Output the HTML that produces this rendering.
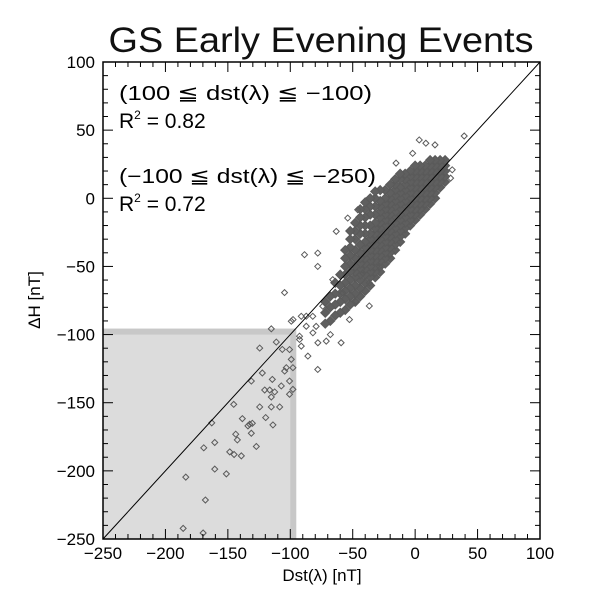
<!DOCTYPE html>
<html><head><meta charset="utf-8"><style>
html,body{margin:0;padding:0;background:#fff;}
svg{display:block;font-family:"Liberation Sans","DejaVu Sans",sans-serif;}
</style></head><body>
<svg id="chart" width="600" height="600" viewBox="0 0 600 600" xmlns="http://www.w3.org/2000/svg">
<text x="321" y="52" font-size="35" text-anchor="middle" textLength="425" lengthAdjust="spacingAndGlyphs" font-weight="normal" fill="#111">GS Early Evening Events</text>
<g id="plot"></g>
<text x="119" y="100" font-size="20" textLength="253" lengthAdjust="spacingAndGlyphs">(100 ≦ dst(λ) ≦ −100)</text>
<text x="119" y="128" font-size="21">R<tspan font-size="12" dy="-9">2</tspan><tspan dy="9"> = 0.82</tspan></text>
<text x="119" y="183" font-size="20" textLength="257" lengthAdjust="spacingAndGlyphs">(−100 ≦ dst(λ) ≦ −250)</text>
<text x="119" y="211" font-size="21">R<tspan font-size="12" dy="-9">2</tspan><tspan dy="9"> = 0.72</tspan></text>
<text x="322" y="581" font-size="17" text-anchor="middle">Dst(λ) [nT]</text>
<text x="0" y="0" font-size="17" text-anchor="middle" transform="translate(40,300) rotate(-90)">ΔH [nT]</text>
</svg>
<script>
const xTicks = [-250,-200,-150,-100,-50,0,50,100];
const yTicks = [-250,-200,-150,-100,-50,0,50,100];
const xDomain = [-250,100];
const yDomain = [-250,100];
const threshold = -100;
// outlier / strong-storm points
const outX = [-115.2,-124.5,-111.2,-106.4,-122.4,-114.4,-131.2,-120.5,-116.5,-112.5,-115.2,-107.2,-104.5,-103.2,-99.2,-97.9,-100.6,-97.9,-100.6,-145.3,-124.5,-115.2,-108.5,-138.4,-119.7,-132.5,-130.4,-133.9,-113.9,-162.9,-143.7,-142.4,-131.2,-127.2,-160.5,-169.3,-148.5,-145.0,-139.2,-160.5,-151.2,-183.7,-168.0,-185.8,-169.8,
 3.3,8.6,39.3,15.9,-2,29.7,28.4,-15.3,-46,-54,-63.2,-88.6,-78,-78,-104.6,-28.6,-47.3,-52.6,-59.3,-71.2,-81.9,-67.9,-87.2,-97.8,-92.6,-100.6,-42,-36.7,-36.7,-58,-74,-66,
 -99.2,-91.2,-87.2,-92.6,-91.2,-85.9,-77.9,-79.3,-78,-82];
const outY = [-95.8,-109.9,-105.5,-110.9,-128.2,-132.9,-134.1,-140.7,-140.7,-142.1,-145.8,-137.7,-126.8,-124.3,-118.2,-124.3,-134.1,-140.2,-143.8,-151.2,-153.1,-153.1,-153.1,-161.7,-160.9,-165.8,-165.1,-167.0,-166.3,-164.8,-173.1,-177.3,-172.4,-182.1,-179.2,-183.1,-186.1,-188.0,-189.0,-198.7,-202.2,-204.6,-221.4,-242.2,-245.6,
 42.8,40.4,45.7,39.2,33,20.9,14.8,25.8,-8.4,-14.5,-24.3,-41.4,-40.2,-50,-69.2,-50,-75.6,-89,-106,-104.8,-98.7,-100,-86.5,-89,-103.6,-111,-54.8,-62.1,-79,-69.4,-79.2,-59.7,
 -90.2,-86.6,-93.9,-101.2,-108.5,-115.8,-106,-94,-125.6,-86.6];
// dense core: each row is a Dst value with its observed ΔH values
const coreX = [24,20,16,12,8,4,0,-4,-8,-12,-16,-20,-24,-28,-32,-36,-40,-44,-48,-52,-56,-60,-64,-68,-72];
const coreY = [
 [12,16,20,24,28],
 [8,12,16,20,24,28],
 [0,4,8,12,16,20,24,28],
 [-4,0,4,8,12,16,20,24,28],
 [-8,-4,0,4,8,12,16,20,24],
 [-12,-8,-4,0,4,8,12,16,20,24],
 [-16,-12,-8,-4,0,4,8,12,16,20,24],
 [-20,-16,-12,-8,-4,0,4,8,12,16,20],
 [-26,-22,-18,-14,-10,-6,-2,2,6,10,14,18],
 [-32,-28,-24,-20,-16,-12,-8,-4,0,4,8,14,18],
 [-38,-34,-30,-26,-22,-18,-14,-10,-6,-2,2,6,10,14],
 [-44,-40,-36,-32,-28,-24,-20,-16,-12,-8,-4,0,4,10],
 [-48,-44,-40,-36,-32,-28,-24,-20,-16,-12,-8,-4,0,6],
 [-54,-50,-46,-42,-38,-34,-30,-26,-22,-18,-14,-10,-6,-2,6],
 [-58,-54,-50,-46,-42,-38,-34,-30,-26,-22,-18,-12,-6,0,5],
 [-64,-58,-54,-50,-46,-42,-38,-34,-30,-26,-20,-12,-6,0],
 [-68,-62,-56,-52,-48,-44,-40,-36,-32,-26,-20,-14,-8,-3],
 [-72,-66,-60,-56,-52,-48,-44,-40,-34,-26,-20,-14,-8],
 [-76,-70,-64,-58,-54,-50,-44,-38,-30,-24,-18],
 [-78,-72,-66,-60,-54,-48,-42,-36,-30,-24],
 [-82,-74,-68,-62,-56,-50,-44,-38],
 [-84,-76,-70,-64,-56],
 [-86,-78,-70,-62],
 [-90,-80,-72],
 [-92,-84,-76]
];

const L=103,R=540,T=62,B=539;
const sx=v=>L+(v-xDomain[0])/(xDomain[1]-xDomain[0])*(R-L);
const sy=v=>B-(v-yDomain[0])/(yDomain[1]-yDomain[0])*(B-T);
const NS='http://www.w3.org/2000/svg';
const g=document.getElementById('plot');
function mk(tag,attrs){const e=document.createElementNS(NS,tag);for(const k in attrs)e.setAttribute(k,attrs[k]);g.appendChild(e);return e;}

let e=mk('rect',{x:sx(xDomain[0]),y:sy(threshold)-6,width:sx(threshold)+6-sx(xDomain[0]),height:B-sy(threshold)+6,fill:'#c8c8c8'});


e=mk('rect',{x:sx(xDomain[0]),y:sy(threshold),width:sx(threshold)-sx(xDomain[0]),height:B-sy(threshold),fill:'#dcdcdc'});



function diamond(x,y,r,fill){
 const px=sx(x),py=sy(y);
 return mk('path',{d:`M${px} ${py-r}L${px+r} ${py}L${px} ${py+r}L${px-r} ${py}Z`,fill:fill,stroke:'#5a5a5a','stroke-width':1});
}
for(let i=0;i<coreX.length;i++){for(const y of coreY[i]){
 const d=diamond(coreX[i],y,4.5,'#5f5f5f');
 
 
}}
for(let i=0;i<outX.length;i++){
 const d=diamond(outX[i],outY[i],3,'none');
 
 
}
e=mk('line',{x1:sx(-250),y1:sy(-250),x2:sx(100),y2:sy(100),stroke:'#000','stroke-width':1});


e=mk('rect',{x:L,y:T,width:R-L,height:B-T,fill:'none',stroke:'#000','stroke-width':1.5});


for(let v=xDomain[0];v<=xDomain[1];v+=10){
 const major=xTicks.includes(v),len=major?10:5,x=sx(v);
 let t=mk('line',{x1:x,y1:B,x2:x,y2:B-len,stroke:'#000'});
 
 
 t=mk('line',{x1:x,y1:T,x2:x,y2:T+len,stroke:'#000'});
 
 
}
for(let v=yDomain[0];v<=yDomain[1];v+=10){
 const major=yTicks.includes(v),len=major?10:5,y=sy(v);
 let t=mk('line',{x1:L,y1:y,x2:L+len,y2:y,stroke:'#000'});
 
 
 t=mk('line',{x1:R,y1:y,x2:R-len,y2:y,stroke:'#000'});
 
 
}
for(const v of xTicks){
 const t=mk('text',{x:sx(v),y:B+20,'font-size':17,'text-anchor':'middle'});
 t.textContent=v<0?'−'+(-v):String(v);
 
 
}
for(const v of yTicks){
 const t=mk('text',{x:L-8,y:sy(v)+6,'font-size':17,'text-anchor':'end'});
 t.textContent=v<0?'−'+(-v):String(v);
 
 
}
</script>
</body></html>
